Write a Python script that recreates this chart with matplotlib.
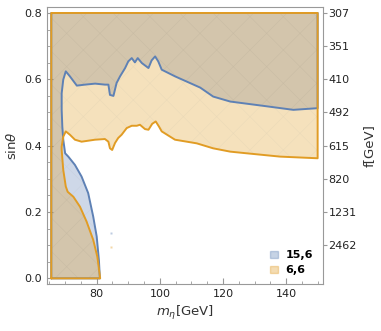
import matplotlib.pyplot as plt
from matplotlib.patches import Patch

# boundary of the "15,6" region (from bottom, up the left side, across to the right)
blue_x = [81.0, 80.7, 80.0, 78.9, 77.3, 75.2, 73.1, 71.0, 70.0, 69.4, 69.1, 68.9, 68.9,
          69.4, 70.2, 71.5, 73.7, 76.3, 79.5, 82.6, 83.7, 84.2, 85.3, 86.3, 87.4, 89.0,
          90.0, 91.1, 92.1, 93.0, 94.3, 96.4, 97.4, 98.5, 99.5, 100.6, 104.8, 112.8,
          116.9, 122.3, 132.8, 142.3, 150.0]
blue_y = [0.0, 0.055, 0.126, 0.186, 0.257, 0.307, 0.342, 0.367, 0.377, 0.418, 0.458, 0.508, 0.558,
          0.599, 0.624, 0.609, 0.581, 0.584, 0.587, 0.584, 0.584, 0.553, 0.550, 0.589, 0.609, 0.634,
          0.654, 0.664, 0.651, 0.664, 0.649, 0.634, 0.657, 0.669, 0.654, 0.629, 0.609, 0.575,
          0.548, 0.533, 0.520, 0.508, 0.513]

# boundary of the "6,6" region
orange_x = [81.1, 80.2, 78.9, 76.8, 74.7, 72.6, 70.8, 70.2, 69.4, 68.9, 68.9, 69.4, 70.2,
            71.5, 73.1, 75.2, 79.5, 82.6, 83.7, 84.2, 84.9, 85.8, 86.8, 87.9, 89.5, 91.1,
            92.7, 93.7, 95.3, 96.4, 97.6, 98.7, 99.7, 100.6, 104.8, 111.7, 116.9, 122.3,
            127.5, 138.1, 150.0]
orange_y = [0.0, 0.065, 0.116, 0.171, 0.216, 0.246, 0.261, 0.277, 0.327, 0.387, 0.397, 0.427, 0.443,
            0.433, 0.418, 0.412, 0.418, 0.420, 0.412, 0.392, 0.387, 0.408, 0.423, 0.433, 0.453, 0.460,
            0.460, 0.463, 0.450, 0.448, 0.466, 0.473, 0.458, 0.443, 0.418, 0.407, 0.392, 0.382,
            0.377, 0.367, 0.362]

x_min, x_max, y_top = 65.6, 150.0, 0.8

f_ticks = [0.8, 0.7, 0.6, 0.5, 0.4, 0.3, 0.2, 0.1]
f_labels = ['307', '351', '410', '492', '615', '820', '1231', '2462']

blue = '#5E81B5'
orange = '#E19C24'

fig = plt.figure(figsize=(3.81, 3.31), dpi=100)
ax = fig.add_axes([47 / 381, 47 / 331, 276 / 381, 277 / 331])

plt.rcParams['hatch.linewidth'] = 0.4


def region(xs, ys):
    px = [x_min] + xs + [x_max, x_min]
    py = [0.0] + ys + [y_top, y_top]
    return px, py


for xs, ys, c, z in [(blue_x, blue_y, blue, 2), (orange_x, orange_y, orange, 3)]:
    px, py = region(xs, ys)
    ax.fill(px, py, color=c, alpha=0.3, lw=0, zorder=z)
    ax.fill(px, py, facecolor='none', edgecolor=(0.6, 0.6, 0.6, 0.1), hatch='x', lw=0, zorder=z)
    ax.plot(px + [px[0]], py + [py[0]], color=c, lw=1.4, zorder=z + 2,
            solid_joinstyle='round', solid_capstyle='round')

# tiny stray points
ax.plot([84.6], [0.137], 's', color=blue, ms=1.5, alpha=0.4, mec='none')
ax.plot([84.6], [0.095], 's', color=orange, ms=1.5, alpha=0.4, mec='none')

ax.set_xlim(64.25, 151.7)
ax.set_ylim(-0.017, 0.818)
ax.set_xticks([80, 100, 120, 140])
ax.set_xticks(range(65, 151, 5), minor=True)
ax.set_yticks([0.0, 0.2, 0.4, 0.6, 0.8])
ax.set_yticks([i * 0.05 for i in range(17)], minor=True)
ax.set_yticklabels(['0.0', '0.2', '0.4', '0.6', '0.8'])

for s in ax.spines.values():
    s.set_color('#999999')
    s.set_linewidth(0.8)
ax.tick_params(which='both', direction='in', color='#999999', labelsize=8, labelcolor='#222222')
ax.tick_params(which='major', length=4)
ax.tick_params(which='minor', length=2)

ax.set_xlabel(r'$m_\eta$[GeV]', fontsize=9.5, color='#333333', labelpad=4)
ax.set_ylabel(r'sin$\theta$', fontsize=9.5, color='#333333', labelpad=4)

ax2 = ax.twinx()
ax2.set_ylim(ax.get_ylim())
ax2.set_yticks(f_ticks)
ax2.set_yticklabels(f_labels)
ax2.tick_params(direction='out', length=3, color='#999999', labelsize=8, labelcolor='#222222', pad=1)
for s in ax2.spines.values():
    s.set_visible(False)
ax2.set_ylabel('f[GeV]', fontsize=9.5, color='#333333', labelpad=4)

handles = [Patch(facecolor=blue, alpha=0.35, edgecolor=blue, label='15,6'),
           Patch(facecolor=orange, alpha=0.35, edgecolor=orange, label='6,6')]
leg = ax.legend(handles=handles, loc='lower right', bbox_to_anchor=(1.0, -0.005),
                frameon=False, handlelength=0.7, handleheight=0.7, handletextpad=0.7,
                labelspacing=0.45, prop={'weight': 'bold', 'size': 8})
for h in leg.legend_handles:
    h.set_edgecolor(h.get_facecolor()[:3])

fig.savefig('out.png', dpi=100)
